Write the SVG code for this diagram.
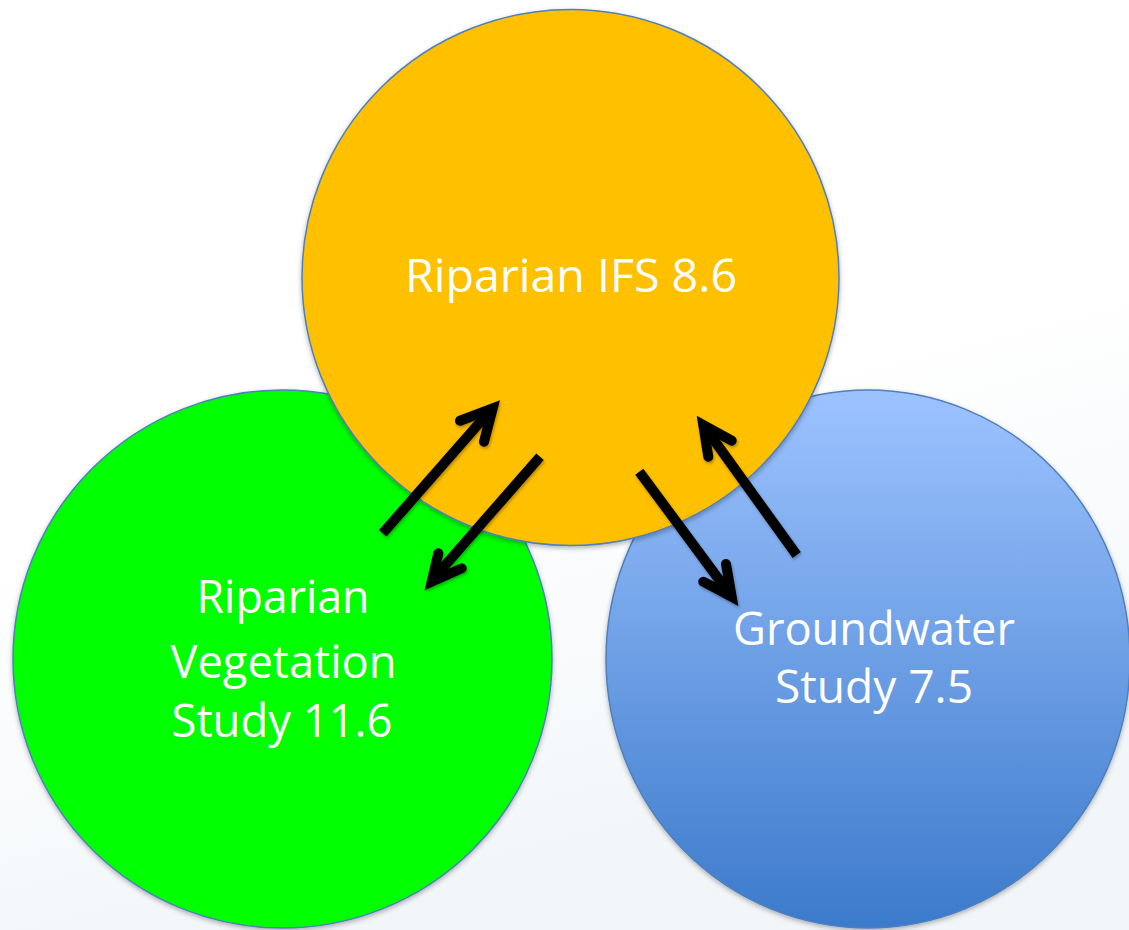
<svg xmlns="http://www.w3.org/2000/svg" width="1129" height="930" viewBox="0 0 1129 930">
<defs>
<linearGradient id="bg" x1="0" y1="0" x2="0.3" y2="1">
<stop offset="0" stop-color="#ffffff"/>
<stop offset="0.55" stop-color="#ffffff"/>
<stop offset="1" stop-color="#f2f6f9"/>
</linearGradient>
<linearGradient id="blue" x1="0" y1="0" x2="0" y2="1">
<stop offset="0" stop-color="#9dc3ff"/>
<stop offset="1" stop-color="#3c7acb"/>
</linearGradient>
<filter id="sh" x="-10%" y="-10%" width="120%" height="120%">
<feDropShadow dx="0" dy="2" stdDeviation="2.5" flood-color="#000" flood-opacity="0.3"/>
</filter>
<filter id="ash" x="-20%" y="-20%" width="140%" height="140%">
<feDropShadow dx="1" dy="2" stdDeviation="1.5" flood-color="#000" flood-opacity="0.3"/>
</filter>
<style>
.c{stroke:#4f7fbd;stroke-width:1.5;filter:url(#sh)}
.t{font-family:"Open Sans","Noto Sans",sans-serif;font-size:45px;fill:#ffffff;text-anchor:middle}
.shaft{stroke:#000;stroke-width:10;fill:none;stroke-linecap:butt}
.head{stroke:#000;stroke-width:10;fill:none;stroke-linecap:round;stroke-linejoin:miter;stroke-miterlimit:10}
</style>
</defs>
<rect width="1129" height="930" fill="url(#bg)"/>
<g id="node-vegetation">
<ellipse class="c" cx="282.5" cy="659" rx="269.5" ry="269" fill="#00ff00"/>
<text class="t" x="283" y="613" textLength="173" lengthAdjust="spacingAndGlyphs">Riparian</text>
<text class="t" x="283.5" y="678" textLength="226" lengthAdjust="spacingAndGlyphs">Vegetation</text>
<text class="t" x="282" y="737" textLength="221" lengthAdjust="spacingAndGlyphs">Study 11.6</text>
</g>
<g id="node-groundwater">
<ellipse class="c" cx="868" cy="659" rx="262" ry="269" fill="url(#blue)"/>
<text class="t" x="874" y="645" textLength="282" lengthAdjust="spacingAndGlyphs">Groundwater</text>
<text class="t" x="874" y="703" textLength="198" lengthAdjust="spacingAndGlyphs">Study 7.5</text>
</g>
<g id="node-ifs">
<ellipse class="c" cx="570.5" cy="277.5" rx="268.5" ry="268" fill="#ffc000"/>
<text class="t" x="571" y="292" textLength="332" lengthAdjust="spacingAndGlyphs">Riparian IFS 8.6</text>
</g>
<g id="connectors" filter="url(#ash)">
<line class="shaft" x1="382.7" y1="533.3" x2="489" y2="412"/>
<polyline class="head" points="460,420.7 492.7,408.3 484,441.7"/>
<line class="shaft" x1="540" y1="456.7" x2="434" y2="578"/>
<polyline class="head" points="438.3,553.3 431.7,581.7 461.7,568.3"/>
<line class="shaft" x1="639.3" y1="471.7" x2="729" y2="593"/>
<polyline class="head" points="726,564 731.7,596.7 703.3,581.7"/>
<line class="shaft" x1="796.7" y1="555" x2="706" y2="429"/>
<polyline class="head" points="708.3,456.7 703.3,425 731.7,440.7"/>
</g>
</svg>
